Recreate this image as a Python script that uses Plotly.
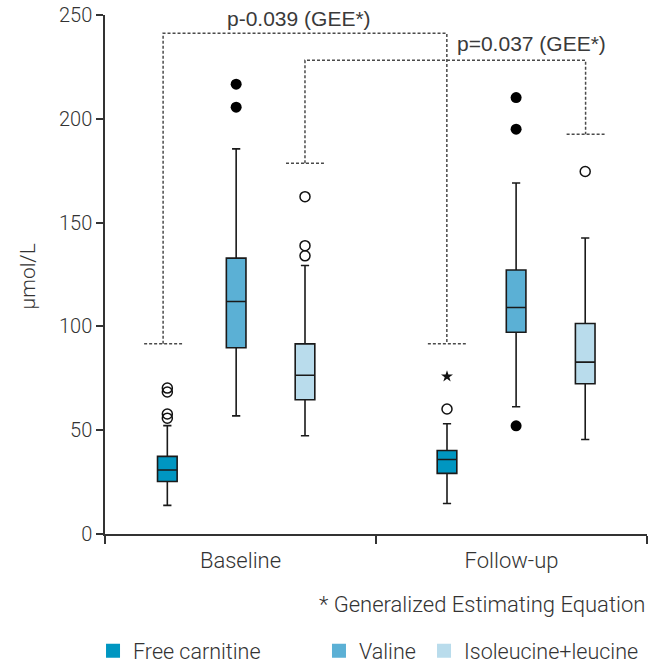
import plotly.graph_objects as go

# ---------------- data ----------------
groups = ["Baseline", "Follow-up"]
group_pos = [0, 1]
series = ["Free carnitine", "Valine", "Isoleucine+leucine"]
# box positions (data units on x axis), per series: [Baseline, Follow-up]
box_x = {
    "Free carnitine": [-0.270, 0.762],
    "Valine": [-0.016, 1.017],
    "Isoleucine+leucine": [0.238, 1.272],
}
lowerfence = {"Free carnitine": [13.8, 14.7], "Valine": [56.9, 61.3], "Isoleucine+leucine": [47.3, 45.5]}
q1 = {"Free carnitine": [25.3, 29.2], "Valine": [89.7, 97.2], "Isoleucine+leucine": [64.7, 72.4]}
median = {"Free carnitine": [30.8, 35.9], "Valine": [112.0, 109.1], "Isoleucine+leucine": [76.5, 82.8]}
q3 = {"Free carnitine": [37.4, 40.2], "Valine": [132.9, 127.2], "Isoleucine+leucine": [91.6, 101.4]}
upperfence = {"Free carnitine": [52.2, 53.1], "Valine": [185.5, 169.1], "Isoleucine+leucine": [129.3, 142.6]}

# outliers
open_out_x = [-0.270, -0.270, -0.270, -0.270, 0.238, 0.238, 0.238, 0.762, 1.272]
open_out_y = [70.3, 68.4, 57.8, 55.8, 162.5, 138.9, 134.0, 60.2, 174.6]
filled_out_x = [-0.016, -0.016, 1.017, 1.017, 1.017]
filled_out_y = [216.7, 205.6, 210.2, 195.0, 52.1]
star_out_x = [0.762]
star_out_y = [75.9]

# significance brackets: left leg x, right leg x, top y, left bottom y, right bottom y
brackets = [
    {"x0": -0.2856, "x1": 0.7614, "top": 241.2, "y0": 91.6, "y1": 91.6, "label": "p-0.039 (GEE*)",
     "lx": 0.217, "ly": 248.4},
    {"x0": 0.2379, "x1": 1.2734, "top": 228.2, "y0": 178.6, "y1": 192.6, "label": "p=0.037 (GEE*)",
     "lx": 1.0728, "ly": 236.4},
]
y_ticks = [0, 50, 100, 150, 200, 250]
footnote = "* Generalized Estimating Equation"
y_title = "μmol/L"

colors = {"Free carnitine": "#0096c1", "Valine": "#5bb0d5", "Isoleucine+leucine": "#b9dcec"}

FONT = "Roboto"
TXT = "#333333"
W = 300  # light weight where available

fig = go.Figure()

for s in series:
    fig.add_trace(go.Box(
        x=box_x[s], q1=q1[s], median=median[s], q3=q3[s],
        lowerfence=lowerfence[s], upperfence=upperfence[s],
        width=0.0724, whiskerwidth=0.42,
        fillcolor=colors[s], line=dict(color="#1a1a1a", width=1.6),
        boxpoints=False, showlegend=False, hoverinfo="skip",
    ))

fig.add_trace(go.Scatter(x=open_out_x, y=open_out_y, mode="markers", showlegend=False,
                         marker=dict(symbol="circle-open", size=10, color="#111111",
                                     line=dict(width=1.5, color="#111111"))))
fig.add_trace(go.Scatter(x=filled_out_x, y=filled_out_y, mode="markers", showlegend=False,
                         marker=dict(symbol="circle", size=11, color="#000000")))
fig.add_trace(go.Scatter(x=star_out_x, y=star_out_y, mode="markers", showlegend=False,
                         marker=dict(symbol="star", size=9, color="#111111")))

# brackets
seg_half = 0.07
for b in brackets:
    bx = [b["x0"] - seg_half, b["x0"] + seg_half, None,
          b["x0"], b["x0"], b["x1"], b["x1"], None,
          b["x1"] - seg_half, b["x1"] + seg_half]
    by = [b["y0"], b["y0"], None,
          b["y0"], b["top"], b["top"], b["y1"], None,
          b["y1"], b["y1"]]
    fig.add_trace(go.Scatter(x=bx, y=by, mode="lines", showlegend=False, hoverinfo="skip",
                             line=dict(color="#4a4a4a", width=1.5, dash="3px,2px")))
    fig.add_annotation(x=b["lx"], y=b["ly"], xref="x", yref="y", text=b["label"], showarrow=False,
                       xanchor="center", yanchor="middle",
                       font=dict(family="Liberation Sans", size=21, color="#3a3a3a"))

# legends (one per item for exact placement)
legend_names = ["legend", "legend2", "legend3"]
legend_x = [-0.0221, 0.3948, 0.5886]
for s, ln in zip(series, legend_names):
    fig.add_trace(go.Scatter(x=[None], y=[None], mode="markers", name=s, legend=ln,
                             marker=dict(symbol="square", size=14, color=colors[s])))

leg_common = dict(orientation="h", yanchor="middle", y=-0.2250, xanchor="left",
                  font=dict(family=FONT, size=21.5, color=TXT, weight=W), bgcolor="rgba(0,0,0,0)",
                  borderwidth=0, tracegroupgap=0, itemclick=False)
fig.update_layout(
    legend=dict(x=legend_x[0], **leg_common),
    legend2=dict(x=legend_x[1], **leg_common),
    legend3=dict(x=legend_x[2], **leg_common),
)

fig.add_annotation(x=1.0, y=-0.136, xref="paper", yref="paper", text=footnote, showarrow=False,
                   xanchor="right", yanchor="middle",
                   font=dict(family=FONT, size=22, color=TXT, weight=W))
fig.add_annotation(x=-0.1428, y=0.4955, xref="paper", yref="paper", text=y_title, showarrow=False,
                   textangle=-90, xanchor="center", yanchor="middle",
                   font=dict(family=FONT, size=21, color=TXT, weight=W))

fig.update_layout(
    width=663, height=663,
    margin=dict(l=105, r=16, t=15, b=128.7, autoexpand=False),
    paper_bgcolor="white", plot_bgcolor="white",
    font=dict(family=FONT, size=20, color=TXT),
    xaxis=dict(range=[-0.5, 1.5], tickvals=group_pos, ticktext=groups, automargin=False,
               ticks="outside", ticklen=6, tickcolor="rgba(0,0,0,0)",
               showline=True, linecolor="#333333", linewidth=1.5,
               showgrid=False, zeroline=False, ticklabeloverflow="allow",
               minor=dict(tickvals=[-0.5, 0.5, 1.5], ticks="outside", ticklen=8,
                          tickcolor="#333333", tickwidth=1.5, showgrid=False),
               tickfont=dict(family=FONT, size=22, color=TXT, weight=W)),
    yaxis=dict(range=[0, 250], tickvals=y_ticks, ticks="outside", ticklen=7, automargin=False,
               tickcolor="#333333", tickwidth=1.5, ticklabeloverflow="allow",
               showline=True, linecolor="#333333", linewidth=1.5,
               showgrid=False, zeroline=False,
               tickfont=dict(family=FONT, size=20, color=TXT, weight=W)),
)

# remove the browser's default 8px page margin so the figure sits at the window's corner
fig.write_html("out.html", config={"displayModeBar": False},
               post_script="document.body.style.margin='0';")
